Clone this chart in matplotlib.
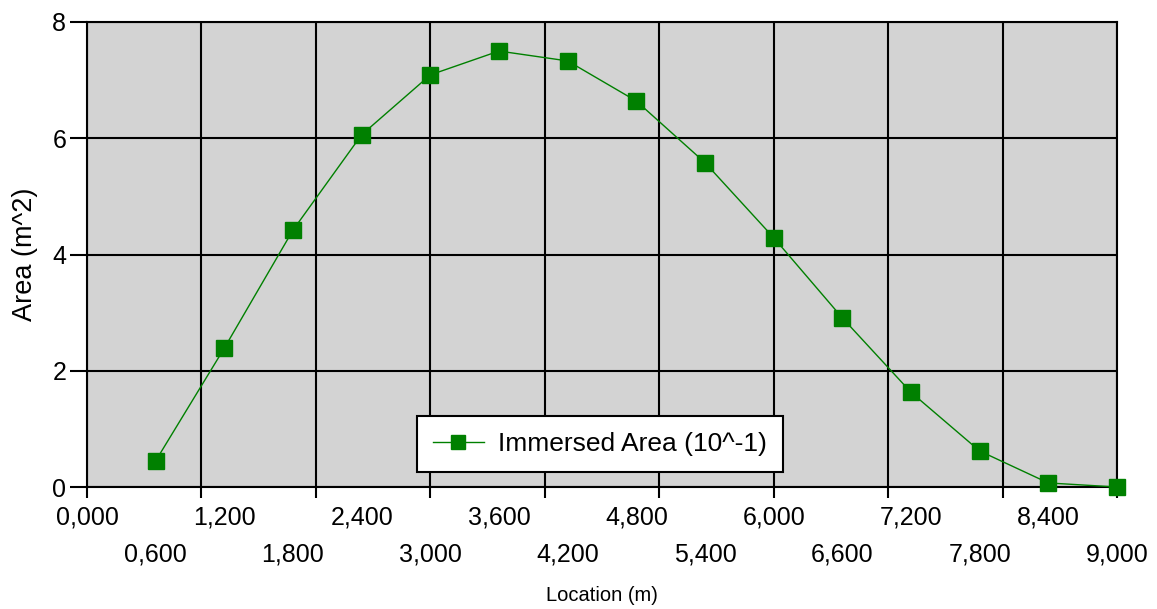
import numpy as np
import matplotlib
matplotlib.use('Agg')
from matplotlib import pyplot as plt

plt.rcParams['font.family'] = ['Liberation Sans', 'DejaVu Sans']

location = [0.6, 1.2, 1.8, 2.4, 3.0, 3.6, 4.2, 4.8, 5.4, 6.0, 6.6, 7.2, 7.8, 8.4, 9.0]
area = [0.45, 2.39, 4.42, 6.06, 7.09, 7.50, 7.33, 6.64, 5.58, 4.29, 2.91, 1.63, 0.62, 0.07, 0.0]

label_pos = [0.0, 0.6, 1.2, 1.8, 2.4, 3.0, 3.6, 4.2, 4.8, 5.4, 6.0, 6.6, 7.2, 7.8, 8.4, 9.0]
grid_pos = [0, 1, 2, 3, 4, 5, 6, 7, 8, 9]
y_ticks = [0, 2, 4, 6, 8]

fig = plt.figure(figsize=(11.57, 6.09), dpi=100)
ax = fig.add_axes([0.0752, 0.2003, 0.8902, 0.7636])
ax.set_facecolor('#d3d3d3')

ax.plot(location, area, color='green', linewidth=1, marker='s', markersize=12,
        markerfacecolor='green', markeredgecolor='green', label='Immersed Area (10^-1)',
        clip_on=False, zorder=3)

ax.set_xlim(0, 9)
ax.set_ylim(0, 8)

ax.xaxis.remove_overlapping_locs = False
ax.set_xticks(grid_pos)
ax.set_xticklabels([])
ax.tick_params(axis='x', which='major', length=8, width=1.5, color='black')

labels = []
for i, p in enumerate(label_pos):
    s = '{:.3f}'.format(p).replace('.', ',')
    if i % 2 == 1:
        s = '\n' + s
    labels.append(s)
ax.set_xticks(label_pos, minor=True)
ax.set_xticklabels(labels, minor=True, fontsize=18, linespacing=1.65, va='top')
ax.tick_params(axis='x', which='minor', length=0, pad=13.5)

ax.set_yticks(y_ticks)
ax.set_yticklabels([str(v) for v in y_ticks], fontsize=18)
ax.tick_params(axis='y', length=12, width=1.5, color='black', pad=3)

ax.grid(True, which='major', color='black', linewidth=1.5)
ax.set_axisbelow(True)
for sp in ax.spines.values():
    sp.set_color('black')
    sp.set_linewidth(1.5)

ax.set_xlabel('Location (m)', fontsize=14.5, labelpad=14)
ax.set_ylabel('Area (m^2)', fontsize=19.5, labelpad=10)

leg = ax.legend(loc='center', bbox_to_anchor=(0.498, 0.092), fontsize=19, fancybox=False,
                framealpha=1, edgecolor='black', borderpad=0.6, handlelength=1.95,
                handletextpad=0.55, markerscale=0.85, borderaxespad=0)
leg.get_frame().set_linewidth(1.5)

plt.savefig('out.png', dpi=100)
